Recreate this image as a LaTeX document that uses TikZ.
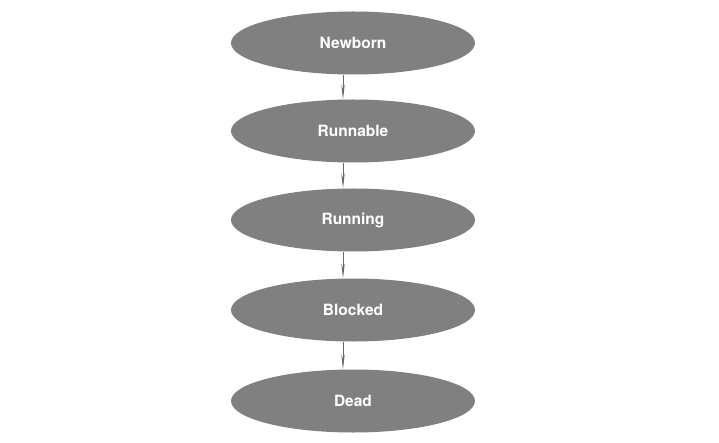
\documentclass[tikz,border=0pt]{standalone}
\usepackage{fontspec}
\setmainfont{TeX Gyre Heros}
\usetikzlibrary{shapes.geometric,arrows.meta}
\definecolor{stategray}{RGB}{128,128,128}
\definecolor{linkgray}{RGB}{105,105,105}
\tikzset{
  state/.style={ellipse, fill=stategray, minimum width=244pt, minimum height=63pt,
    inner sep=0pt, text=white, font=\fontsize{15.5}{18}\selectfont\bfseries},
  link/.style={draw=linkgray, line width=0.8pt,
    -{Stealth[length=15pt,width=3.5pt]}}
}
\begin{document}
\begin{tikzpicture}[x=1pt,y=-1pt]
    \useasboundingbox (0,0) rectangle (719,443);

    \node[state] (newborn) at (353,43) {Newborn};
    \node[state] (runnable) at (353,131) {Runnable};
    \node[state] (running) at (353,220) {Running};
    \node[state] (blocked) at (353,310) {Blocked};
    \node[state] (dead) at (353,401) {Dead};

    \draw[link] ([xshift=-10pt]newborn.south) -- ([xshift=-10pt]runnable.north);
    \draw[link] ([xshift=-10pt]runnable.south) -- ([xshift=-10pt]running.north);
    \draw[link] ([xshift=-10pt]running.south) -- ([xshift=-10pt]blocked.north);
    \draw[link] ([xshift=-10pt]blocked.south) -- ([xshift=-10pt]dead.north);
  \end{tikzpicture}
\end{document}
